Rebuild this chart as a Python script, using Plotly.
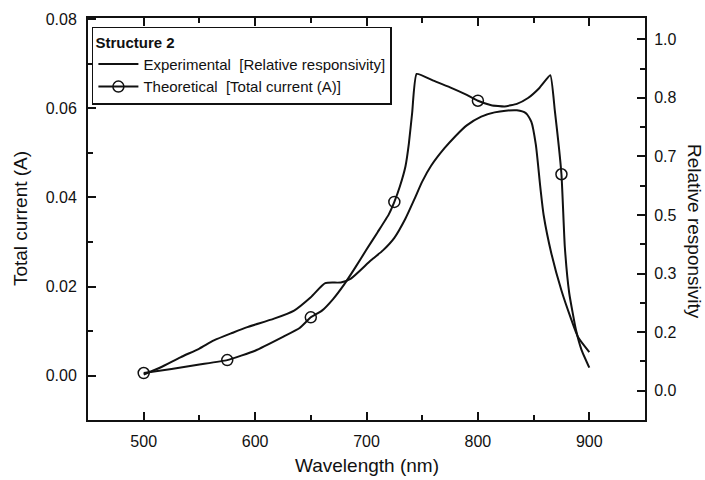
import plotly.graph_objects as go

# Theoretical total current (A) vs wavelength (nm) -- left axis
theo_wl = [500, 525, 550, 575, 600, 625, 640, 650, 660, 670, 680, 690, 700, 710, 720, 725,
           730, 735, 738, 741, 745, 760, 775, 790, 800, 812, 824, 835, 845, 855, 865,
           869, 875, 878, 882, 888, 893, 900]
theo_current = [0.0006, 0.0015, 0.0025, 0.0035, 0.0056, 0.0087, 0.0107, 0.0131, 0.0146, 0.0172,
                0.0205, 0.0243, 0.0283, 0.0322, 0.0362, 0.0390, 0.0425, 0.0470, 0.0520, 0.0590,
                0.0677, 0.0662, 0.0647, 0.0630, 0.0617, 0.0607, 0.0604, 0.0610, 0.0623, 0.0645,
                0.0674, 0.0596, 0.0452, 0.0290, 0.0185, 0.0103, 0.0058, 0.0018]
theo_marker_wl = [500, 575, 650, 725, 800, 875]

# Experimental relative responsivity vs wavelength (nm) -- right axis
exp_wl = [500, 515, 533, 550, 563, 580, 593, 617, 635, 650, 663, 677, 686, 704, 715, 725,
          735, 743, 750, 758, 770, 780, 790, 803, 815, 825, 835, 843, 848, 852, 856, 859, 866,
          875, 883, 890, 900]
exp_resp = [0.046, 0.066, 0.095, 0.120, 0.143, 0.165, 0.181, 0.205, 0.228, 0.266, 0.306, 0.308,
            0.319, 0.371, 0.400, 0.435, 0.490, 0.545, 0.595, 0.640, 0.690, 0.725, 0.755, 0.780,
            0.792, 0.797, 0.798, 0.790, 0.765, 0.700, 0.580, 0.500, 0.390, 0.285, 0.210, 0.152,
            0.110]

right_tick_vals = [0, 1/6, 2/6, 3/6, 4/6, 5/6, 1]
right_tick_text = ["0.0", "0.2", "0.3", "0.5", "0.7", "0.8", "1.0"]

marker_current = [c for w, c in zip(theo_wl, theo_current) if w in theo_marker_wl]
marker_wl = [w for w in theo_wl if w in theo_marker_wl]

FONT = "Liberation Sans, Arial, sans-serif"
BLACK = "#111111"

fig = go.Figure()

fig.add_trace(go.Scatter(
    x=exp_wl, y=exp_resp, mode="lines", yaxis="y2",
    line=dict(color=BLACK, width=2, shape="spline", smoothing=0.6),
    name="Experimental\u00a0 [Relative responsivity]", showlegend=True))

fig.add_trace(go.Scatter(
    x=theo_wl, y=theo_current, mode="lines",
    line=dict(color=BLACK, width=2, shape="spline", smoothing=0.4),
    showlegend=False, hoverinfo="skip"))

fig.add_trace(go.Scatter(
    x=marker_wl, y=marker_current, mode="markers",
    marker=dict(symbol="circle-open", size=11, color=BLACK, line=dict(width=1.5, color=BLACK)),
    showlegend=False))

# legend entry for theoretical (line + open circle)
fig.add_trace(go.Scatter(
    x=[None], y=[None], mode="lines+markers",
    line=dict(color=BLACK, width=2),
    marker=dict(symbol="circle-open", size=11, color=BLACK, line=dict(width=1.5, color=BLACK)),
    name="Theoretical\u00a0 [Total current (A)]"))

axis_common = dict(showline=True, linecolor=BLACK, linewidth=2, ticks="inside",
                   ticklen=8, tickwidth=1.5, tickcolor=BLACK, showgrid=False, zeroline=False,
                   tickfont=dict(family=FONT, size=16, color=BLACK))

fig.update_layout(
    width=705, height=480,
    margin=dict(l=88, r=60, t=18, b=60),
    paper_bgcolor="white", plot_bgcolor="white",
    font=dict(family=FONT, color=BLACK),
    xaxis=dict(range=[450, 950], dtick=100, tick0=500, mirror="ticks",
               minor=dict(ticks="inside", ticklen=5, dtick=50, tick0=450, tickcolor=BLACK, tickwidth=1.5),
               ticklabelstandoff=6, **axis_common),
    yaxis=dict(range=[-0.00994, 0.08026], dtick=0.02, tick0=0, tickformat=".2f",
               minor=dict(ticks="inside", ticklen=5, dtick=0.01, tick0=0, tickcolor=BLACK, tickwidth=1.5),
               ticklabelstandoff=6, **axis_common),
    yaxis2=dict(range=[-0.0834, 1.0606], overlaying="y", side="right", anchor="x",
                tickmode="array", tickvals=right_tick_vals, ticktext=right_tick_text,
                minor=dict(ticks="inside", ticklen=5, tickmode="linear", tick0=0, dtick=1/12,
                           tickcolor=BLACK, tickwidth=1.5),
                ticklabelstandoff=4, **axis_common),
    legend=dict(x=0.007, y=0.978, xanchor="left", yanchor="top",
                bgcolor="white", bordercolor=BLACK, borderwidth=1.5,
                font=dict(family=FONT, size=15, color=BLACK),
                title=dict(text="<b>Structure 2</b>", font=dict(family=FONT, size=15, color=BLACK)),
                tracegroupgap=0, itemwidth=40),
    showlegend=True,
    annotations=[
        dict(text="Wavelength (nm)", x=0.5, y=-0.112, xref="paper", yref="paper",
             xanchor="center", yanchor="middle", showarrow=False,
             font=dict(family=FONT, size=19, color=BLACK)),
        dict(text="Total current (A)", x=-0.122, y=0.5, xref="paper", yref="paper",
             xanchor="center", yanchor="middle", showarrow=False, textangle=-90,
             font=dict(family=FONT, size=19, color=BLACK)),
        dict(text="Relative responsivity", x=1.0898, y=0.47, xref="paper", yref="paper",
             xanchor="center", yanchor="middle", showarrow=False, textangle=90,
             font=dict(family=FONT, size=19, color=BLACK)),
    ],
)

fig.write_html("out.html")
